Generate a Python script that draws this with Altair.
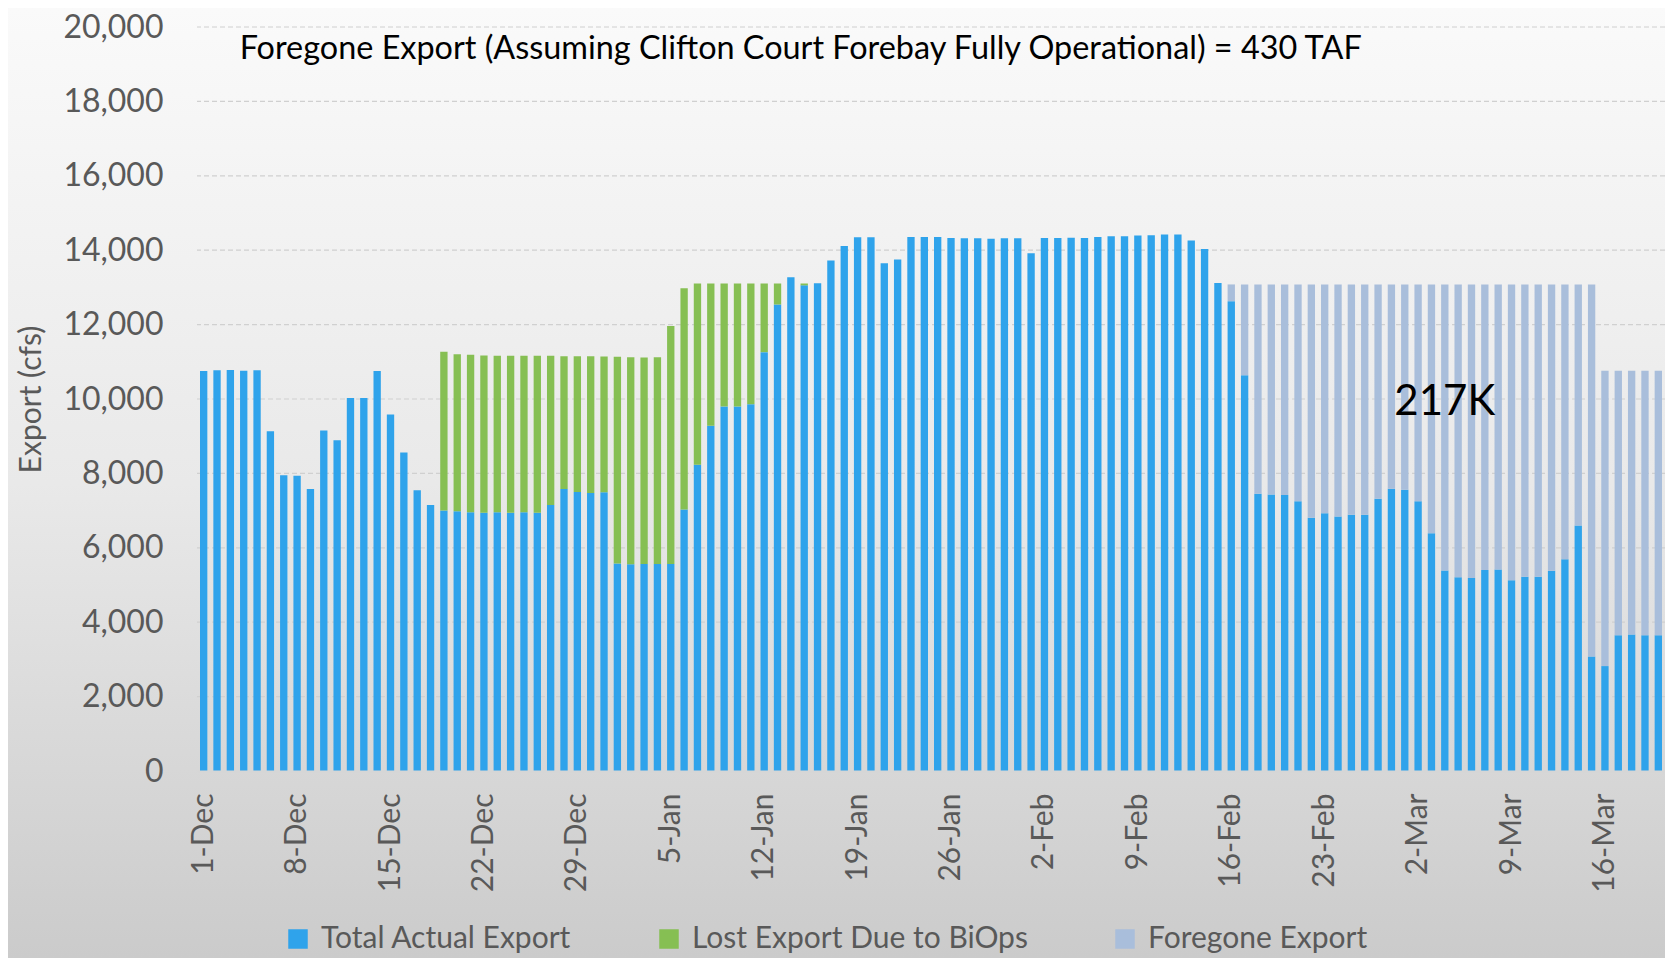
import altair as alt
import pandas as pd

# ---------------- data ----------------
month_lengths = [("Dec", 31), ("Jan", 31), ("Feb", 28), ("Mar", 20)]
dates = [f"{d}-{m}" for m, n in month_lengths for d in range(1, n + 1)]

tick_labels = ["1-Dec", "8-Dec", "15-Dec", "22-Dec", "29-Dec", "5-Jan", "12-Jan",
               "19-Jan", "26-Jan", "2-Feb", "9-Feb", "16-Feb", "23-Feb", "2-Mar",
               "9-Mar", "16-Mar"]
y_ticks = [0, 2000, 4000, 6000, 8000, 10000, 12000, 14000, 16000, 18000, 20000]

actual = [10750, 10770, 10780, 10760, 10770, 9130, 7950, 7940, 7580, 9150,
          8890, 10030, 10030, 10750, 9580, 8560, 7550, 7150, 7000, 6980,
          6955, 6945, 6955, 6945, 6955, 6945, 7150, 7580, 7500, 7470,
          7490, 5580, 5560, 5565, 5565, 5565, 7030, 8230, 9280, 9800,
          9800, 9860, 11260, 12540, 13275, 13055, 13110, 13720, 14110, 14350,
          14350, 13650, 13750, 14355, 14355, 14355, 14330, 14320, 14320, 14310,
          14320, 14320, 13920, 14330, 14330, 14335, 14330, 14355, 14375, 14375,
          14395, 14400, 14420, 14420, 14260, 14030, 13120, 12630, 10640, 7450,
          7430, 7420, 7250, 6810, 6930, 6840, 6890, 6890, 7320, 7590,
          7560, 7250, 6390, 5390, 5210, 5190, 5400, 5420, 5130, 5220,
          5220, 5380, 5690, 6600, 3080, 2820, 3650, 3670, 3650, 3650]

lost = ([0] * 18 +
        [4270, 4225, 4235, 4225, 4205, 4215, 4210, 4215, 4010, 3570,
         3650, 3680, 3650, 5555, 5565, 5553, 5555, 6400, 5945, 4875,
         3825, 3305, 3305, 3245, 1845, 565, 0, 50] +
        [0] * 64)

foregone = ([0] * 77 +
            [450, 2440, 5630, 5650, 5660, 5830, 6270, 6150, 6240, 6190,
             6190, 5760, 5490, 5520, 5830, 6690, 7690, 7870, 7890, 7680,
             7660, 7950, 7860, 7860, 7700, 7390, 6480, 10000, 7940, 7110,
             7090, 7110, 7110])

series = ["Total Actual Export", "Lost Export Due to BiOps", "Foregone Export"]
colors = ["#2fa3eb", "#86bf53", "#a9bedb"]

annot_text = ["Foregone Export (Assuming Clifton Court Forebay Fully Operational) = 430 TAF"]
annot_date = ["4-Dec"]
annot_value = [19150]

big_text = ["217K"]
big_date = ["4-Mar"]
big_value = [9570]

# ---------------- build table ----------------
rows = []
for i, d in enumerate(dates):
    for k, arr in enumerate([actual, lost, foregone]):
        if arr[i] > 0:
            rows.append({"date": d, "series": series[k], "value": arr[i], "ord": k})
df = pd.DataFrame(rows)

W, H = 1468, 744
PL, PT, PR, PB = 189, 19, 0, 187

yscale = alt.Scale(domain=[0, 20000], nice=False)

x_axis = alt.Axis(values=tick_labels, labelAngle=-90, title=None, ticks=False,
                  labelPadding=22, labelFontSize=30, labelColor="#595959",
                  domainColor="#d6d6d6", domainWidth=2, grid=False, zindex=1)
y_axis = alt.Axis(values=y_ticks, labelExpr="format(datum.value, ',.0f')",
                  title="Export (cfs)",
                  ticks=False, domain=False, labelPadding=34, labelFontSize=32,
                  labelColor="#595959", titleFontSize=30, titleColor="#595959",
                  titleFontWeight="normal", titlePadding=16, grid=False, zindex=1)

x_enc = alt.X("date:O",
              scale=alt.Scale(domain=dates, paddingInner=0.45, paddingOuter=0.225),
              axis=x_axis)

bg = alt.Chart(alt.Data(values=[{"a": 1}])).mark_rect(
    fill=alt.Gradient(
        gradient="linear",
        stops=[alt.GradientStop(color="#fafafa", offset=0),
               alt.GradientStop(color="#e9e9e9", offset=0.5),
               alt.GradientStop(color="#cbcbcb", offset=1)],
        x1=0, x2=0, y1=0, y2=1),
).encode(x=alt.value(-PL), x2=alt.value(W + PR), y=alt.value(-PT), y2=alt.value(H + PB))

grid = alt.Chart(pd.DataFrame({"value": y_ticks[1:]})).mark_rule(
    color="#d0d0d0", strokeDash=[5, 3], strokeWidth=1.2
).encode(y=alt.Y("value:Q", scale=yscale, axis=y_axis))

bars = alt.Chart(df).mark_bar().encode(
    x=x_enc,
    y=alt.Y("value:Q", stack="zero", scale=yscale, axis=y_axis),
    color=alt.Color("series:N", scale=alt.Scale(domain=series, range=colors),
                    legend=alt.Legend(orient="none", legendX=86, legendY=897,
                                      direction="horizontal", title=None,
                                      symbolType="square", symbolSize=380,
                                      symbolStrokeWidth=0, labelFontSize=30,
                                      labelColor="#595959", labelOffset=8,
                                      labelLimit=0, columnPadding=82)),
    order=alt.Order("ord:Q"),
)

annot_df = pd.DataFrame({"date": annot_date, "value": annot_value, "text": annot_text})
annot = alt.Chart(annot_df).mark_text(
    align="left", baseline="alphabetic", fontSize=32.4, dx=-4, color="#000000"
).encode(x=x_enc, y=alt.Y("value:Q", scale=yscale, axis=y_axis), text="text:N")

big_df = pd.DataFrame({"date": big_date, "value": big_value, "text": big_text})
big = alt.Chart(big_df).mark_text(
    align="center", baseline="alphabetic", fontSize=42, color="#000000"
).encode(x=x_enc, y=alt.Y("value:Q", scale=yscale, axis=y_axis), text="text:N")

chart = alt.layer(bg, grid, bars, annot, big).properties(
    width=W, height=H, autosize="none",
    padding={"left": PL, "top": PT, "right": PR, "bottom": PB},
).configure(font="Lato").configure_view(stroke=None)

chart.save("out.html", embed_options={"renderer": "svg", "actions": False})
